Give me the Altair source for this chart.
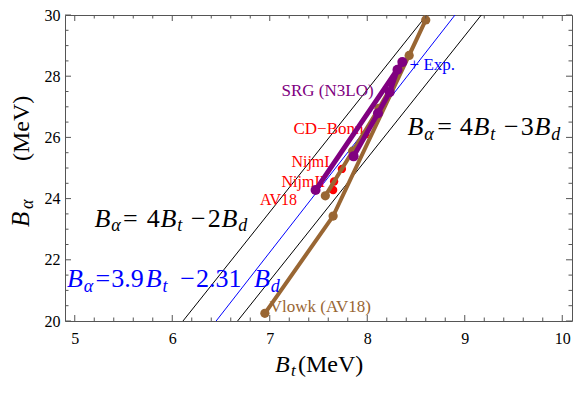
import altair as alt
import pandas as pd

SERIF = "Liberation Serif"
FRAME = "#555555"
W, H = 507, 306

# ---------------- data ----------------
# Vlowk (AV18) trajectory (B_t, B_alpha) in MeV
vlowk_bt = [7.57, 7.85, 8.12, 8.43, 8.60, 7.65, 6.95]
vlowk_ba = [24.09, 25.55, 26.95, 28.68, 29.84, 23.43, 20.25]
# SRG (N3LO) trajectory
srg_bt = [7.86, 8.11, 8.23, 8.31, 8.36, 7.47]
srg_ba = [25.38, 26.79, 27.48, 28.21, 28.46, 24.28]
# bare potentials
pot_names = ["CD-Bonn", "NijmI", "NijmII", "AV18"]
pot_bt = [7.98, 7.74, 7.66, 7.65]
pot_ba = [26.10, 24.97, 24.56, 24.28]
# reference lines (end points)
ref_names = ["4Bt-2Bd", "4Bt-3Bd", "3.9Bt-2.31Bd"]
ref_bt = [[6.11, 8.61], [6.67, 9.17], [6.45, 8.90]]
ref_ba = [[20.0, 30.0], [20.0, 30.0], [20.0, 30.0]]
ref_colors = ["black", "black", "blue"]

# ticks
x_major = [5, 6, 7, 8, 9, 10]
x_minor = [round(5 + 0.2 * i, 1) for i in range(26) if i % 5]
y_major = [20, 22, 24, 26, 28, 30]
y_minor = [20 + 0.5 * i for i in range(21) if i % 4]

# labels: text, B_t, B_alpha (left/baseline anchor), colour, size
lab_text = ["SRG (N3LO)", "CD\u2212Bonn", "NijmI", "NijmII", "AV18", "Vlowk (AV18)", "+ Exp."]
lab_bt = [7.121, 7.243, 7.222, 7.121, 6.899, 7.000, 8.434]
lab_ba = [27.358, 26.101, 25.02, 24.37, 23.80, 20.283, 28.208]
lab_col = ["#800080", "red", "red", "red", "red", "#996633", "blue"]
lab_size = [17, 17, 16, 16, 16, 17, 17]

# formulas as pieces: kind I=italic, S=italic subscript, R=roman
f_text = ["B", "\u03b1", "=", "4", "B", "t", "\u2212", "3", "B", "d",
          "B", "\u03b1", "=", "4", "B", "t", "\u2212", "2", "B", "d",
          "B", "\u03b1", "=", "3.9", "B", "t", "\u2212", "2.31", "B", "d"]
f_kind = ["I", "S", "R", "R", "I", "S", "R", "R", "I", "S"] * 3
f_bt = [8.414, 8.585, 8.717, 8.949, 9.090, 9.262, 9.403, 9.575, 9.716, 9.888,
        5.203, 5.375, 5.496, 5.738, 5.879, 6.051, 6.192, 6.364, 6.505, 6.677,
        4.920, 5.092, 5.213, 5.375, 5.728, 5.900, 6.081, 6.243, 6.839, 7.010]
f_base = [26.069] * 10 + [23.082] * 10 + [21.101] * 10
f_col = ["black"] * 20 + ["blue"] * 10

# ---------------- build tables ----------------
xs = alt.Scale(domain=[4.9, 10.1], nice=False, zero=False)
ys = alt.Scale(domain=[20, 30], nice=False, zero=False)
xaxis = alt.Axis(values=x_major, title=None, ticks=False, domain=False, grid=False,
                 labelFont=SERIF, labelFontSize=16, labelColor="black", labelPadding=9,
                 labelFlush=False, labelOverlap=False, format="d")
yaxis = alt.Axis(values=y_major, title=None, ticks=False, domain=False, grid=False,
                 labelFont=SERIF, labelFontSize=16, labelColor="black", labelPadding=5,
                 labelFlush=False, labelOverlap=False, format="d")


def X(f):
    return alt.X(f, type="quantitative", scale=xs, axis=xaxis)


def Y(f):
    return alt.Y(f, type="quantitative", scale=ys, axis=yaxis)


ref_rows = []
for n, bx, by in zip(ref_names, ref_bt, ref_ba):
    for i, (a, b) in enumerate(zip(bx, by)):
        ref_rows.append({"name": n, "bt": a, "ba": b, "i": i})
ref_df = pd.DataFrame(ref_rows)

vl_df = pd.DataFrame({"bt": vlowk_bt, "ba": vlowk_ba, "i": range(len(vlowk_bt))})
srg_df = pd.DataFrame({"bt": srg_bt, "ba": srg_ba, "i": range(len(srg_bt))})
pot_df = pd.DataFrame({"name": pot_names, "bt": pot_bt, "ba": pot_ba})
lab_df = pd.DataFrame({"text": lab_text, "bt": lab_bt, "ba": lab_ba, "col": lab_col, "size": lab_size})

frm = pd.DataFrame({"text": f_text, "kind": f_kind, "bt": f_bt, "base": f_base, "col": f_col})
frm["ba"] = frm["base"] - (frm["kind"] == "S") * 0.14
frm["size"] = frm["kind"].map({"I": 26, "R": 26, "S": 18})

# ---------------- layers ----------------
refs = alt.Chart(ref_df).mark_line(strokeWidth=1, clip=True).encode(
    x=X("bt"), y=Y("ba"), order="i:Q",
    color=alt.Color("name:N", scale=alt.Scale(domain=ref_names, range=ref_colors), legend=None))

labels = alt.Chart(lab_df).mark_text(font=SERIF, align="left", baseline="alphabetic").encode(
    x=X("bt"), y=Y("ba"), text="text:N", color=alt.Color("col:N", scale=None),
    size=alt.Size("size:Q", scale=None))

pots = alt.Chart(pot_df).mark_circle(size=70, opacity=1, color="red").encode(x=X("bt"), y=Y("ba"))

vl_line = alt.Chart(vl_df).mark_line(strokeWidth=4, color="#996633").encode(x=X("bt"), y=Y("ba"), order="i:Q")
vl_pts = alt.Chart(vl_df).mark_circle(size=85, opacity=1, color="#996633").encode(x=X("bt"), y=Y("ba"))
srg_line = alt.Chart(srg_df).mark_line(strokeWidth=5, color="#800080").encode(x=X("bt"), y=Y("ba"), order="i:Q")
srg_pts = alt.Chart(srg_df).mark_circle(size=100, opacity=1, color="#800080").encode(x=X("bt"), y=Y("ba"))

f_it = alt.Chart(frm[frm.kind != "R"]).mark_text(font=SERIF, fontStyle="italic", align="left",
                                                  baseline="alphabetic").encode(
    x=X("bt"), y=Y("ba"), text="text:N", size=alt.Size("size:Q", scale=None),
    color=alt.Color("col:N", scale=None))
f_rm = alt.Chart(frm[frm.kind == "R"]).mark_text(font=SERIF, align="left", baseline="alphabetic").encode(
    x=X("bt"), y=Y("ba"), text="text:N", size=alt.Size("size:Q", scale=None),
    color=alt.Color("col:N", scale=None))


def xt(vals, L):
    d = pd.DataFrame({"v": vals})
    b = alt.Chart(d).mark_rule(color=FRAME, strokeWidth=1).encode(x=X("v"), y=alt.value(H), y2=alt.value(H - L))
    t = alt.Chart(d).mark_rule(color=FRAME, strokeWidth=1).encode(x=X("v"), y=alt.value(0), y2=alt.value(L))
    return [b, t]


def yt(vals, L):
    d = pd.DataFrame({"v": vals})
    l = alt.Chart(d).mark_rule(color=FRAME, strokeWidth=1).encode(y=Y("v"), x=alt.value(0), x2=alt.value(L))
    r = alt.Chart(d).mark_rule(color=FRAME, strokeWidth=1).encode(y=Y("v"), x=alt.value(W), x2=alt.value(W - L))
    return [l, r]


ticks = xt(x_major, 6) + xt(x_minor, 3.5) + yt(y_major, 6) + yt(y_minor, 3.5)


def title_piece(txt, x, y, size, italic=False, angle=0):
    kw = dict(text=txt, font=SERIF, fontSize=size, align="left", baseline="alphabetic", color="black")
    if italic:
        kw["fontStyle"] = "italic"
    if angle:
        kw["angle"] = angle
    return alt.Chart(pd.DataFrame({"a": [0]})).mark_text(**kw).encode(x=alt.value(x), y=alt.value(y))


titles = [
    title_piece("B", 210, H + 51, 24, italic=True),
    title_piece("t", 226, H + 55, 17, italic=True),
    title_piece("(MeV)", 233, H + 51, 24),
    title_piece("B", -36, 212, 25, italic=True, angle=270),
    title_piece("\u03b1", -32, 194, 18, italic=True, angle=270),
    title_piece("(MeV)", -36, 146, 24, angle=270),
]

chart = alt.layer(
    refs, labels, pots, vl_line, vl_pts, srg_line, srg_pts, f_it, f_rm, *ticks, *titles
).properties(
    width=W, height=H,
    padding={"left": 57, "top": 7, "right": 1, "bottom": 60},
    autosize="none",
    background="white",
).configure_view(stroke=FRAME, strokeWidth=1)

chart.save("out.html", embed_options={"renderer": "svg", "actions": False})
